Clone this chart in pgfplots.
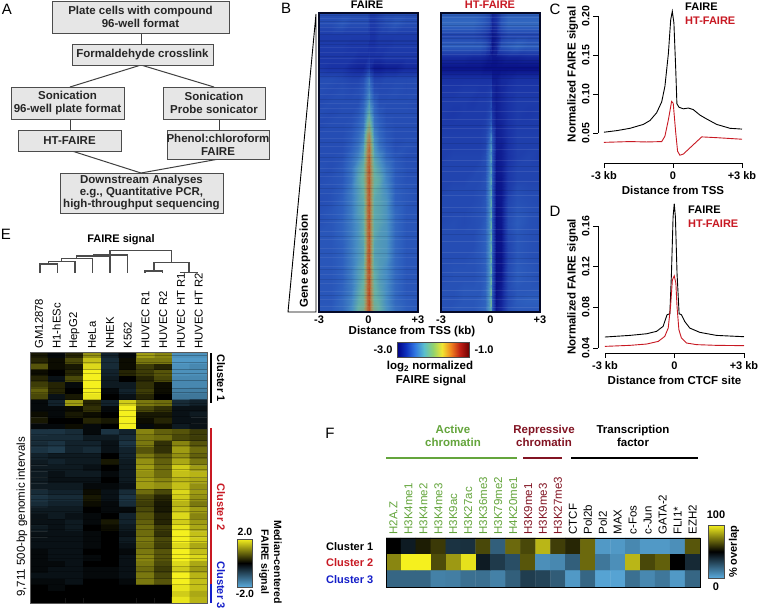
\documentclass[border=0pt]{standalone}
\usepackage{fontspec}
\setmainfont{Liberation Sans}
\usepackage{pgfplots}
\usepackage{pgfplotstable}
\pgfplotsset{compat=1.18}
\definecolor{htred}{RGB}{200,25,35}
\definecolor{clblue}{RGB}{20,30,200}
\definecolor{acgreen}{RGB}{100,165,60}
\definecolor{repred}{RGB}{130,20,35}
\definecolor{boxg}{RGB}{230,230,230}
\definecolor{frameb}{RGB}{5,10,40}
\newcommand{\fs}[1]{\fontsize{#1}{#1}\selectfont}
\newcommand{\bx}[5]{\draw[fill=boxg,draw=black!70,line width=.9pt] (#1,#2) rectangle (#3,#4);
  \node[align=center,font=\bfseries\fs{11.5},text=black!85,inner sep=0pt] at ({(#1+#3)/2},{(#2+#4)/2}) {#5};}
\pgfplotsset{
  colormap={jetf}{rgb255=(0,0,130) rgb255=(15,50,190) rgb255=(50,120,225) rgb255=(90,190,205) rgb255=(145,210,110) rgb255=(240,230,50) rgb255=(240,130,30) rgb255=(190,30,20) rgb255=(110,0,0)},
  colormap={heat}{rgb255=(0,0,120) rgb255=(25,50,165) rgb255=(45,95,190) rgb255=(70,140,195) rgb255=(100,175,165) rgb255=(140,165,120) rgb255=(175,130,80) rgb255=(185,75,35) rgb255=(130,10,10)},
  colormap={byb}{rgb255=(90,170,220) rgb255=(0,0,0) rgb255=(245,240,30)},
  heatB/.style={scale only axis,anchor=south west,width=99pt,height=299pt,xmin=-3,xmax=3,ymin=13,ymax=312,y dir=reverse,
    axis line style={line width=2pt,color=frameb},xtick={-3,0,3},xticklabels={-3,0,+3},ytick=\empty,major tick length=0pt,
    colormap name=heat,point meta min=-3,point meta max=-1,axis on top,
    tick label style={font=\bfseries\fs{11}},xticklabel style={yshift=0pt}},
  curve/.style={scale only axis,anchor=south west,clip=false,axis x line=none,axis y line*=left,tick align=outside,
    major tick length=5pt,axis line style={line width=.9pt},tick style={line width=.9pt,black},
    tick label style={font=\bfseries\fs{10.5}},
    yticklabel style={rotate=90,anchor=south,/pgf/number format/assume math mode=true,/pgf/number format/fixed,/pgf/number format/fixed zerofill,/pgf/number format/precision=2},
    ylabel style={font=\bfseries\fs{11.5}}},
  xcurve/.style={scale only axis,anchor=south west,height=1pt,ymin=0,ymax=1,xmin=-3,xmax=3,axis y line=none,axis x line*=bottom,
    xtick={-3,0,3},xticklabels={-3 kb,0,+3 kb},tick align=outside,major tick length=5pt,axis line style={line width=.9pt},tick style={line width=.9pt,black},
    tick label style={font=\bfseries\fs{11}},xlabel style={font=\bfseries\fs{11.5}}},
  cbar/.style={scale only axis,anchor=south west,hide axis,shader=interp},
}
\pgfplotstableread[header=false]{
18
23
27
31
47
52
58
63
83
88
94
103
108
117
123
131
138
146
153
161
168
176
184
193
201
214
222
231
239
248
257
266
274
283
291
299
306
}\lightA
\pgfplotstableread[header=false]{
15
21
34
40
41
44
56
68
72
76
99
113
127
142
157
172
188
205
219
236
253
269
279
295
}\darkA
\pgfplotstableread[header=false]{
17
22
26
29
32
36
42
46
50
54
85
92
101
111
119
128
137
149
160
171
181
195
207
216
229
241
252
263
272
281
290
299
307
}\lightB
\pgfplotstableread[header=false]{
15
25
34
38
44
60
63
67
70
74
78
97
125
143
166
190
212
234
258
276
296
}\darkB
\pgfplotstableread[header=false]{
.05
1.2
2.4
3.1
4.3
5.5
6.2
7.4
8.1
9.3
10.2
11.4
13.2
14.3
15.1
16.4
17.2
18.3
19.1
20.4
21.2
22.5
23.3
24.1
25.4
26.2
27.5
28.3
29.1
30.4
31.2
32.4
33.3
34.1
35.4
36.2
37.3
38.4
}\stripesE
\begin{document}
\begin{tikzpicture}[x=1pt,y=1pt]
\useasboundingbox (0,0) rectangle (758,610);
\fill[white] (0,0) rectangle (758,610);
% master overlay in pixel units
\begin{axis}[at={(0pt,0pt)},anchor=south west,scale only axis,width=758pt,height=610pt,xmin=0,xmax=758,ymin=0,ymax=610,y dir=reverse,hide axis,clip=false]
% panel letters
\node[font=\fs{15}] at (7,9) {A};
\node[font=\fs{15}] at (286,8) {B};
\node[font=\fs{15}] at (555,9) {C};
\node[font=\fs{15}] at (555,211) {D};
\node[font=\fs{15}] at (6,234) {E};
\node[font=\fs{15}] at (330,433) {F};
% flowchart A
\addplot[black!75,line width=1pt] coordinates {(141,33)(141,44)};
\addplot[black!75,line width=1pt] coordinates {(70,87)(141,65)(214,87)};
\addplot[black!75,line width=1pt] coordinates {(70,119)(70,130)};
\addplot[black!75,line width=1pt] coordinates {(219,119)(219,130)};
\addplot[black!75,line width=1pt] coordinates {(72,151)(141,173)(219,159)};
\bx{52}{1}{229}{33}{Plate cells with compound\\[1.5pt]96-well format}
\bx{72}{44}{213}{65}{Formaldehyde crosslink}
\bx{11}{87}{124}{119}{Sonication\\[1.5pt]96-well plate format}
\bx{163}{87}{265}{119}{Sonication\\[1.5pt]Probe sonicator}
\bx{18}{130}{121}{151}{HT-FAIRE}
\bx{167}{130}{269}{159}{Phenol:chloroform\\[1.5pt]FAIRE}
\bx{60}{173}{223}{213}{Downstream Analyses\\[.5pt]e.g., Quantitative PCR,\\[.5pt]high-throughput sequencing}
% panel B annotations
\node[font=\bfseries\fs{11}] at (367,5) {FAIRE};
\node[font=\bfseries\fs{11},text=htred] at (490,5) {HT-FAIRE};
\addplot[black,line width=.9pt] coordinates {(316,14)(288,312)(316,312)(316,14)};
\node[font=\bfseries\fs{11.5},rotate=90] at (305,261) {Gene expression};
\node[font=\bfseries\fs{11.5}] at (412,332) {Distance from TSS (kb)};
\node[font=\bfseries\fs{11}] at (383,350) {-3.0};
\node[font=\bfseries\fs{11}] at (484,350) {-1.0};
\node[font=\bfseries\fs{11.5}] at (430,367) {log\textsubscript{2} normalized};
\node[font=\bfseries\fs{11.5}] at (431,381) {FAIRE signal};
% C, D legends
\node[font=\bfseries\fs{11},anchor=west,inner sep=0pt] at (685,7) {FAIRE};
\node[font=\bfseries\fs{11},anchor=west,inner sep=0pt,text=htred] at (685,21) {HT-FAIRE};
\node[font=\bfseries\fs{11},anchor=west,inner sep=0pt] at (688,210) {FAIRE};
\node[font=\bfseries\fs{11},anchor=west,inner sep=0pt,text=htred] at (688,224) {HT-FAIRE};
% panel E annotations
\node[font=\bfseries\fs{11}] at (121,240) {FAIRE signal};
\addplot[black!70,line width=1.1pt] coordinates {(40,273)(40,264)(57.3,264)(57.3,273)};
\addplot[black!70,line width=1.1pt] coordinates {(48.7,264)(48.7,261.7)(75,261.7)(75,273)};
\addplot[black!70,line width=1.1pt] coordinates {(61.7,261.7)(61.7,258.3)(92.7,258.3)(92.7,273)};
\addplot[black!70,line width=1.1pt] coordinates {(76.7,258.3)(76.7,256)(110,256)(110,273)};
\addplot[black!70,line width=1.1pt] coordinates {(93.3,256)(93.3,255)(127.3,255)(127.3,273)};
\addplot[black!70,line width=1.1pt] coordinates {(110,255)(110,250.7)(171.7,250.7)(171.7,262.7)};
\addplot[black!70,line width=1.1pt] coordinates {(154,272)(154,262.7)(189,262.7)(189,272.7)};
\addplot[black!70,line width=1.1pt] coordinates {(145,272.7)(145,271)(162.7,271)(162.7,272.7)};
\addplot[black!70,line width=1.1pt] coordinates {(180,272.7)(198,272.7)};
\node[font=\bfseries\fs{11},rotate=-90,text=black] at (221,378) {Cluster 1};
\node[font=\bfseries\fs{11},rotate=-90,text=htred] at (221,507) {Cluster 2};
\node[font=\bfseries\fs{11},rotate=-90,text=clblue] at (221,585) {Cluster 3};
\addplot[black,line width=2pt] coordinates {(211,353)(211,403)};
\addplot[htred,line width=2pt] coordinates {(211,428)(211,584)};
\addplot[clblue,line width=2pt] coordinates {(211,584)(211,603)};
\node[font=\fs{11.5},rotate=90] at (22,517) {9,711 500-bp genomic intervals};
\node[font=\bfseries\fs{10.5}] at (245,532) {2.0};
\node[font=\bfseries\fs{10.5}] at (245,594) {-2.0};
\node[font=\bfseries\fs{10.5},rotate=-90] at (278,562) {Median-centered};
\node[font=\bfseries\fs{10.5},rotate=-90] at (264,562) {FAIRE signal};
% panel F annotations
\node[font=\bfseries\fs{11},text=black,anchor=west,inner sep=0pt] at (326,547) {Cluster 1};
\node[font=\bfseries\fs{11},text=htred,anchor=west,inner sep=0pt] at (326,563) {Cluster 2};
\node[font=\bfseries\fs{11},text=clblue,anchor=west,inner sep=0pt] at (326,580) {Cluster 3};
\node[font=\bfseries\fs{11.5},text=acgreen,align=center] at (453,436) {Active\\[2pt]chromatin};
\node[font=\bfseries\fs{11.5},text=repred,align=center] at (544,436) {Repressive\\[2pt]chromatin};
\node[font=\bfseries\fs{11.5},align=center] at (633,436) {Transcription\\[2pt]factor};
\addplot[acgreen,line width=2pt] coordinates {(386,458)(517,458)};
\addplot[repred,line width=2pt] coordinates {(523,458)(562,458)};
\addplot[black,line width=2pt] coordinates {(571,698)};
\addplot[black,line width=2pt] coordinates {(571,458)(698,458)};
\node[font=\bfseries\fs{11}] at (716,515) {100};
\node[font=\bfseries\fs{11}] at (716,587) {0};
\node[font=\bfseries\fs{11},rotate=90] at (734,552) {\% overlap};
\end{axis}

% heatmap B FAIRE
\begin{axis}[heatB,at={(319pt,298pt)}]
\addplot[surf,shader=interp,mesh/cols=15,point meta=explicit] table[header=false,row sep=crcr,meta index=0,
 x expr={3*((mod(\coordindex,15)-7)*abs(mod(\coordindex,15)-7)+(mod(\coordindex,15)-7))/56},
 y expr={13+floor((\coordindex+.5)/15)*299/27}] {
-2.6\\-2.6\\-2.6\\-2.6\\-2.6\\-2.6\\-2.6\\-2.65\\-2.7\\-2.7\\-2.65\\-2.6\\-2.6\\-2.6\\-2.6\\
-2.6\\-2.6\\-2.55\\-2.6\\-2.6\\-2.6\\-2.6\\-2.65\\-2.7\\-2.7\\-2.65\\-2.6\\-2.55\\-2.6\\-2.6\\
-2.7\\-2.7\\-2.7\\-2.7\\-2.7\\-2.7\\-2.7\\-2.7\\-2.75\\-2.75\\-2.7\\-2.7\\-2.7\\-2.7\\-2.7\\
-2.7\\-2.7\\-2.7\\-2.72\\-2.72\\-2.72\\-2.72\\-2.75\\-2.75\\-2.75\\-2.72\\-2.72\\-2.7\\-2.7\\-2.7\\
-2.72\\-2.72\\-2.72\\-2.72\\-2.75\\-2.75\\-2.75\\-2.72\\-2.75\\-2.75\\-2.75\\-2.72\\-2.72\\-2.72\\-2.72\\
-2.72\\-2.75\\-2.75\\-2.8\\-2.82\\-2.82\\-2.75\\-2.7\\-2.8\\-2.88\\-2.88\\-2.85\\-2.85\\-2.8\\-2.8\\
-2.6\\-2.6\\-2.62\\-2.65\\-2.65\\-2.6\\-2.45\\-2.35\\-2.5\\-2.65\\-2.65\\-2.62\\-2.62\\-2.62\\-2.6\\
-2.6\\-2.62\\-2.6\\-2.62\\-2.6\\-2.55\\-2.4\\-2.3\\-2.4\\-2.6\\-2.62\\-2.62\\-2.6\\-2.62\\-2.6\\
-2.62\\-2.6\\-2.6\\-2.6\\-2.6\\-2.5\\-2.3\\-2.15\\-2.3\\-2.5\\-2.6\\-2.6\\-2.6\\-2.6\\-2.62\\
-2.6\\-2.62\\-2.6\\-2.6\\-2.55\\-2.45\\-2.15\\-2.0\\-2.15\\-2.45\\-2.55\\-2.6\\-2.6\\-2.6\\-2.6\\
-2.62\\-2.6\\-2.6\\-2.58\\-2.5\\-2.4\\-1.95\\-1.8\\-1.95\\-2.4\\-2.5\\-2.58\\-2.6\\-2.6\\-2.6\\
-2.6\\-2.6\\-2.6\\-2.55\\-2.45\\-2.3\\-1.7\\-1.55\\-1.7\\-2.3\\-2.45\\-2.55\\-2.6\\-2.6\\-2.6\\
-2.6\\-2.6\\-2.6\\-2.52\\-2.4\\-2.2\\-1.55\\-1.4\\-1.55\\-2.2\\-2.4\\-2.52\\-2.6\\-2.58\\-2.6\\
-2.6\\-2.6\\-2.58\\-2.45\\-2.3\\-2.1\\-1.5\\-1.35\\-1.5\\-2.1\\-2.25\\-2.45\\-2.55\\-2.6\\-2.6\\
-2.58\\-2.6\\-2.55\\-2.4\\-2.15\\-2.0\\-1.45\\-1.3\\-1.45\\-2.0\\-2.15\\-2.35\\-2.52\\-2.58\\-2.6\\
-2.6\\-2.58\\-2.55\\-2.4\\-2.1\\-1.95\\-1.45\\-1.3\\-1.45\\-1.95\\-2.05\\-2.3\\-2.52\\-2.58\\-2.58\\
-2.58\\-2.58\\-2.52\\-2.35\\-2.15\\-2.0\\-1.45\\-1.3\\-1.45\\-2.0\\-2.1\\-2.25\\-2.5\\-2.55\\-2.58\\
-2.6\\-2.58\\-2.5\\-2.35\\-2.15\\-2.05\\-1.45\\-1.3\\-1.45\\-2.05\\-2.1\\-2.2\\-2.5\\-2.55\\-2.58\\
-2.58\\-2.55\\-2.5\\-2.35\\-2.15\\-2.05\\-1.45\\-1.3\\-1.45\\-2.05\\-2.1\\-2.2\\-2.45\\-2.55\\-2.55\\
-2.58\\-2.55\\-2.48\\-2.35\\-2.2\\-2.05\\-1.45\\-1.3\\-1.45\\-2.05\\-2.1\\-2.2\\-2.45\\-2.55\\-2.55\\
-2.55\\-2.55\\-2.48\\-2.35\\-2.2\\-2.05\\-1.45\\-1.3\\-1.45\\-2.05\\-2.15\\-2.2\\-2.45\\-2.55\\-2.55\\
-2.55\\-2.55\\-2.5\\-2.35\\-2.2\\-2.1\\-1.45\\-1.3\\-1.45\\-2.1\\-2.15\\-2.2\\-2.45\\-2.55\\-2.55\\
-2.55\\-2.55\\-2.5\\-2.35\\-2.2\\-2.1\\-1.42\\-1.28\\-1.42\\-2.1\\-2.15\\-2.2\\-2.45\\-2.55\\-2.55\\
-2.55\\-2.55\\-2.5\\-2.35\\-2.15\\-2.05\\-1.42\\-1.28\\-1.42\\-2.05\\-2.15\\-2.25\\-2.45\\-2.55\\-2.55\\
-2.55\\-2.55\\-2.5\\-2.35\\-2.15\\-2.0\\-1.42\\-1.28\\-1.42\\-2.0\\-2.15\\-2.25\\-2.45\\-2.55\\-2.55\\
-2.55\\-2.55\\-2.48\\-2.35\\-2.1\\-1.95\\-1.4\\-1.25\\-1.4\\-1.95\\-2.1\\-2.25\\-2.45\\-2.55\\-2.55\\
-2.55\\-2.55\\-2.45\\-2.3\\-2.05\\-1.95\\-1.4\\-1.25\\-1.4\\-1.95\\-2.05\\-2.25\\-2.45\\-2.52\\-2.55\\
-2.52\\-2.52\\-2.45\\-2.25\\-1.95\\-1.85\\-1.4\\-1.25\\-1.4\\-1.85\\-2.0\\-2.2\\-2.4\\-2.5\\-2.52\\
};
\addplot[xcomb,white,opacity=.07,line width=.5pt,mark=none] table[x expr=3,y index=0] {\lightA};
\addplot[xcomb,white,opacity=.07,line width=.5pt,mark=none] table[x expr=-3,y index=0] {\lightA};
\addplot[xcomb,frameb,opacity=.13,line width=.6pt,mark=none] table[x expr=3,y index=0] {\darkA};
\addplot[xcomb,frameb,opacity=.13,line width=.6pt,mark=none] table[x expr=-3,y index=0] {\darkA};
\end{axis}

% heatmap B HT-FAIRE
\begin{axis}[heatB,at={(441pt,298pt)}]
\addplot[surf,shader=interp,mesh/cols=15,point meta=explicit] table[header=false,row sep=crcr,meta index=0,
 x expr={3*((mod(\coordindex,15)-7)*abs(mod(\coordindex,15)-7)+(mod(\coordindex,15)-7))/56},
 y expr={13+floor((\coordindex+.5)/15)*299/27}] {
-2.5\\-2.5\\-2.5\\-2.5\\-2.52\\-2.55\\-2.6\\-2.72\\-2.8\\-2.75\\-2.6\\-2.5\\-2.5\\-2.5\\-2.5\\
-2.45\\-2.45\\-2.45\\-2.45\\-2.5\\-2.55\\-2.6\\-2.7\\-2.8\\-2.75\\-2.55\\-2.45\\-2.45\\-2.45\\-2.45\\
-2.65\\-2.65\\-2.65\\-2.65\\-2.68\\-2.72\\-2.78\\-2.82\\-2.88\\-2.85\\-2.72\\-2.65\\-2.65\\-2.65\\-2.65\\
-2.5\\-2.5\\-2.5\\-2.5\\-2.5\\-2.55\\-2.65\\-2.78\\-2.88\\-2.8\\-2.55\\-2.5\\-2.45\\-2.5\\-2.5\\
-2.78\\-2.78\\-2.78\\-2.8\\-2.8\\-2.82\\-2.85\\-2.85\\-2.88\\-2.88\\-2.85\\-2.82\\-2.82\\-2.8\\-2.8\\
-2.9\\-2.9\\-2.9\\-2.9\\-2.9\\-2.92\\-2.92\\-2.92\\-2.92\\-2.92\\-2.92\\-2.92\\-2.92\\-2.92\\-2.92\\
-2.75\\-2.75\\-2.75\\-2.75\\-2.75\\-2.75\\-2.75\\-2.75\\-2.85\\-2.85\\-2.8\\-2.78\\-2.75\\-2.75\\-2.75\\
-2.72\\-2.72\\-2.7\\-2.7\\-2.72\\-2.72\\-2.7\\-2.65\\-2.8\\-2.85\\-2.8\\-2.75\\-2.72\\-2.72\\-2.72\\
-2.7\\-2.7\\-2.7\\-2.72\\-2.7\\-2.7\\-2.68\\-2.6\\-2.8\\-2.85\\-2.8\\-2.75\\-2.7\\-2.7\\-2.7\\
-2.7\\-2.72\\-2.7\\-2.7\\-2.7\\-2.7\\-2.65\\-2.55\\-2.75\\-2.85\\-2.8\\-2.75\\-2.7\\-2.72\\-2.7\\
-2.7\\-2.7\\-2.7\\-2.7\\-2.7\\-2.68\\-2.6\\-2.48\\-2.72\\-2.85\\-2.82\\-2.75\\-2.7\\-2.7\\-2.7\\
-2.68\\-2.68\\-2.68\\-2.68\\-2.68\\-2.65\\-2.5\\-2.3\\-2.6\\-2.85\\-2.82\\-2.75\\-2.68\\-2.68\\-2.68\\
-2.68\\-2.68\\-2.68\\-2.68\\-2.68\\-2.65\\-2.4\\-2.2\\-2.55\\-2.85\\-2.85\\-2.75\\-2.68\\-2.68\\-2.68\\
-2.68\\-2.65\\-2.65\\-2.65\\-2.65\\-2.6\\-2.35\\-2.15\\-2.55\\-2.88\\-2.85\\-2.75\\-2.68\\-2.65\\-2.68\\
-2.65\\-2.65\\-2.65\\-2.65\\-2.62\\-2.6\\-2.35\\-2.15\\-2.55\\-2.88\\-2.85\\-2.72\\-2.65\\-2.65\\-2.65\\
-2.65\\-2.65\\-2.65\\-2.62\\-2.62\\-2.58\\-2.3\\-2.1\\-2.55\\-2.9\\-2.88\\-2.72\\-2.65\\-2.65\\-2.65\\
-2.65\\-2.62\\-2.62\\-2.62\\-2.6\\-2.58\\-2.3\\-2.1\\-2.55\\-2.9\\-2.88\\-2.7\\-2.6\\-2.62\\-2.62\\
-2.62\\-2.62\\-2.62\\-2.62\\-2.6\\-2.55\\-2.3\\-2.05\\-2.55\\-2.9\\-2.88\\-2.65\\-2.58\\-2.6\\-2.62\\
-2.62\\-2.62\\-2.62\\-2.6\\-2.58\\-2.55\\-2.3\\-2.05\\-2.55\\-2.92\\-2.88\\-2.62\\-2.55\\-2.58\\-2.6\\
-2.62\\-2.6\\-2.62\\-2.6\\-2.58\\-2.52\\-2.28\\-2.0\\-2.55\\-2.92\\-2.88\\-2.6\\-2.52\\-2.58\\-2.6\\
-2.6\\-2.6\\-2.6\\-2.6\\-2.55\\-2.5\\-2.28\\-2.0\\-2.55\\-2.92\\-2.9\\-2.62\\-2.55\\-2.58\\-2.6\\
-2.6\\-2.6\\-2.6\\-2.6\\-2.55\\-2.5\\-2.25\\-2.0\\-2.55\\-2.92\\-2.9\\-2.65\\-2.55\\-2.58\\-2.6\\
-2.6\\-2.6\\-2.6\\-2.58\\-2.55\\-2.5\\-2.25\\-2.0\\-2.55\\-2.92\\-2.9\\-2.65\\-2.55\\-2.58\\-2.6\\
-2.6\\-2.58\\-2.58\\-2.58\\-2.55\\-2.5\\-2.25\\-2.0\\-2.55\\-2.92\\-2.9\\-2.62\\-2.52\\-2.55\\-2.58\\
-2.6\\-2.58\\-2.58\\-2.58\\-2.55\\-2.5\\-2.25\\-2.0\\-2.55\\-2.92\\-2.88\\-2.62\\-2.52\\-2.55\\-2.58\\
-2.58\\-2.58\\-2.55\\-2.55\\-2.55\\-2.48\\-2.22\\-1.95\\-2.55\\-2.92\\-2.85\\-2.62\\-2.55\\-2.55\\-2.55\\
-2.58\\-2.58\\-2.55\\-2.55\\-2.52\\-2.48\\-2.2\\-1.95\\-2.55\\-2.9\\-2.82\\-2.62\\-2.52\\-2.5\\-2.5\\
-2.58\\-2.55\\-2.55\\-2.55\\-2.5\\-2.45\\-2.2\\-1.95\\-2.55\\-2.88\\-2.8\\-2.6\\-2.55\\-2.55\\-2.55\\
};
\addplot[xcomb,white,opacity=.09,line width=.5pt,mark=none] table[x expr=3,y index=0] {\lightB};
\addplot[xcomb,white,opacity=.09,line width=.5pt,mark=none] table[x expr=-3,y index=0] {\lightB};
\addplot[xcomb,frameb,opacity=.13,line width=.6pt,mark=none] table[x expr=3,y index=0] {\darkB};
\addplot[xcomb,frameb,opacity=.13,line width=.6pt,mark=none] table[x expr=-3,y index=0] {\darkB};
\end{axis}

% colorbar B
\begin{axis}[cbar,at={(397pt,253pt)},width=72pt,height=15pt,xmin=-3,xmax=-1,ymin=0,ymax=1,colormap name=jetf,point meta min=-3,point meta max=-1]
\addplot[surf,shader=interp,mesh/cols=2,point meta=x] coordinates {(-3,0)(-1,0)(-3,1)(-1,1)};
\end{axis}
\draw[black!70,line width=.8pt] (397,253) rectangle (469,268);

% curves C
\begin{axis}[curve,at={(598pt,477pt)},width=144pt,height=117pt,xmin=-3.26,xmax=3,ymin=.05,ymax=.2,ytick={.05,.1,.15,.2},
  ylabel={Normalized FAIRE signal},ylabel style={yshift=-3pt}]
\addplot[black,line width=.9pt] coordinates {(-3,.051)(-2.45,.053)(-1.87,.056)(-1.29,.061)(-1,.066)(-.71,.076)(-.49,.09)(-.35,.11)(-.2,.152)(-.1,.195)(-.03,.206)(.04,.191)(.12,.131)(.17,.0875)(.26,.083)(.45,.081)(.67,.082)(.88,.08)(1.17,.073)(1.46,.068)(1.9,.061)(2.48,.056)(3,.055)};
\addplot[htred,line width=.9pt] coordinates {(-3,.038)(-1.87,.039)(-1.14,.0385)(-.49,.039)(-.35,.046)(-.2,.067)(-.06,.0905)(.01,.088)(.12,.05)(.2,.0266)(.3,.0215)(.45,.023)(.74,.031)(1.03,.039)(1.25,.045)(1.9,.044)(3,.042)};
\end{axis}
\begin{axis}[xcurve,at={(604pt,447pt)},width=138pt,xlabel={Distance from TSS}]
\end{axis}

% curves D
\begin{axis}[curve,at={(598pt,262pt)},width=146pt,height=122pt,xmin=-3.3,xmax=3,ymin=.04,ymax=.16,ytick={.04,.08,.12,.16},
  ylabel={Normalized FAIRE signal},ylabel style={yshift=-3pt}]
\addplot[black,line width=.9pt] coordinates {(-3,.0508)(-1.92,.0524)(-1.2,.054)(-.77,.0564)(-.49,.0613)(-.32,.0727)(-.2,.0737)(-.13,.1136)(-.06,.169)(-.01,.182)(.04,.169)(.11,.1136)(.2,.0737)(.3,.0727)(.44,.0662)(.66,.0596)(1.09,.0554)(1.81,.0524)(3,.0511)};
\addplot[htred,line width=.9pt] coordinates {(-3,.0416)(-1.92,.0426)(-1.2,.0439)(-.7,.0465)(-.42,.0514)(-.27,.0596)(-.17,.0809)(-.09,.107)(-.01,.111)(.06,.1038)(.11,.0809)(.19,.058)(.3,.0498)(.52,.0449)(.95,.0433)(1.81,.0426)(3,.0423)};
\end{axis}
\begin{axis}[xcurve,at={(605pt,257pt)},width=139pt,xlabel={Distance from CTCF site}]
\end{axis}

% heatmap E
\begin{axis}[scale only axis,anchor=south west,at={(30pt,7pt)},width=177.5pt,height=251pt,xmin=-.5,xmax=9.5,ymin=-.5,ymax=41.5,y dir=reverse,
  colormap name=byb,point meta min=-2,point meta max=2,axis on top,axis line style={line width=.8pt,black!65},
  xtick={0,...,9},xticklabels={GM12878,H1-hESc,HepG2,HeLa,NHEK,K562,HUVEC R1,HUVEC R2,HUVEC HT R1,HUVEC HT R2},
  xticklabel pos=upper,xticklabel style={rotate=90,anchor=west,font=\fs{11.3}},ytick=\empty,major tick length=0pt]
\addplot[matrix plot*,mesh/cols=10,point meta=explicit] table[header=false,row sep=crcr,meta index=0,x expr={mod(\coordindex,10)},y expr={floor((\coordindex+.5)/10)}] {
.2\\-.1\\.3\\1.2\\-.4\\-.1\\1.3\\1.1\\-1.7\\-1.7\\
.3\\.1\\.6\\1.6\\-.5\\.1\\1.0\\1.0\\-1.8\\-1.8\\
.7\\.1\\.2\\1.8\\-.5\\.1\\.5\\.3\\-1.7\\-1.6\\
.1\\0\\.3\\2\\-.4\\.3\\.5\\.7\\-1.7\\-1.7\\
.3\\-.2\\.6\\2\\-.3\\0\\.3\\.6\\-1.6\\-1.6\\
.5\\.3\\-.1\\2\\-.3\\-.3\\.4\\.1\\-1.6\\-1.6\\
.8\\.3\\0\\2\\-.1\\-.4\\.5\\.1\\-1.5\\-1.5\\
.6\\-.2\\.2\\1.9\\0\\-.2\\.3\\0\\-1.4\\-1.4\\
-.1\\-.4\\1.3\\.3\\-.4\\1.7\\1.0\\.9\\-.5\\-.4\\
-.1\\-.1\\.1\\.4\\-.1\\2\\.6\\.4\\-.2\\-.2\\
.1\\-.1\\.2\\.1\\0\\2\\.2\\.2\\-.2\\-.3\\
.2\\0\\0\\.3\\.2\\2\\.1\\.3\\-.2\\-.2\\
-.1\\-.1\\.1\\-.1\\0\\2\\-.1\\.1\\-.3\\-.2\\
-.6\\-.6\\-.5\\-.1\\-.6\\-.4\\1.1\\.8\\.7\\.5\\
-.5\\-.5\\-.5\\-.3\\-.3\\-.5\\1.0\\.9\\.6\\.5\\
-.5\\-.6\\-.4\\-.4\\-.2\\-.6\\1.0\\.4\\1.1\\.7\\
-.6\\-.7\\-.4\\-.5\\-.2\\-.4\\.7\\.4\\1.3\\.9\\
-.4\\-.3\\-.3\\-.3\\0\\-.4\\1.0\\.7\\1.2\\.8\\
-.3\\-.4\\-.3\\-.3\\.2\\-.3\\1.2\\.8\\1.4\\1.0\\
-.3\\-.3\\-.3\\-.2\\0\\-.3\\1.3\\.9\\1.7\\1.3\\
-.3\\-.2\\-.3\\-.3\\-.1\\-.3\\1.2\\.9\\1.6\\1.5\\
-.3\\-.2\\-.2\\-.2\\0\\-.3\\1.3\\1.1\\1.5\\1.4\\
-.3\\-.3\\-.3\\-.1\\-.1\\-.2\\1.3\\1.2\\1.6\\1.2\\
-.5\\-.4\\-.4\\.1\\-.2\\-.5\\.9\\.6\\1.8\\1.3\\
-.6\\-.5\\-.5\\.2\\-.2\\-.6\\.6\\.3\\1.7\\1.2\\
-.5\\-.4\\-.4\\.1\\-.1\\-.5\\.5\\.2\\1.5\\1.0\\
-.3\\-.3\\-.3\\0\\-.1\\-.1\\.6\\.2\\1.6\\1.3\\
-.2\\-.3\\-.2\\-.1\\0\\-.4\\.7\\.3\\1.8\\1.1\\
-.2\\-.2\\-.3\\-.1\\.2\\-.4\\.8\\.3\\1.7\\1.3\\
-.3\\-.2\\-.3\\0\\.1\\-.3\\.9\\.5\\1.9\\1.4\\
-.2\\-.2\\-.2\\-.1\\0\\-.2\\.9\\.4\\2\\1.6\\
-.2\\-.2\\-.2\\-.1\\0\\-.3\\1.0\\.6\\2\\1.7\\
-.2\\-.2\\-.2\\-.1\\0\\-.2\\.9\\.5\\1.8\\1.4\\
-.1\\-.2\\-.2\\0\\0\\-.1\\1.0\\.7\\2\\1.6\\
-.1\\-.2\\-.2\\-.1\\0\\-.2\\1.1\\.7\\2\\1.8\\
-.1\\-.1\\-.2\\0\\0\\-.2\\1.0\\.6\\1.8\\1.4\\
-.1\\-.2\\-.2\\-.1\\-.1\\-.2\\.9\\.5\\1.7\\1.3\\
-.2\\-.2\\-.2\\-.1\\-.1\\-.2\\1.0\\.6\\2\\1.5\\
-.1\\-.1\\-.2\\0\\0\\-.1\\1.0\\.7\\2\\1.6\\
0\\-.1\\0\\0\\0\\0\\0\\0\\1.9\\1.6\\
0\\0\\0\\0\\0\\0\\0\\0\\1.7\\1.4\\
0\\0\\0\\0\\0\\0\\0\\0\\1.9\\1.5\\
};
\addplot[xcomb,black,opacity=.25,line width=.6pt,mark=none] table[x expr=9.5,y index=0] {\stripesE};
\addplot[xcomb,black,opacity=.25,line width=.6pt,mark=none] table[x expr=-.5,y index=0] {\stripesE};
\end{axis}

% colorbar E
\begin{axis}[cbar,at={(237pt,23pt)},width=15pt,height=48pt,xmin=0,xmax=1,ymin=-2,ymax=2,colormap name=byb,point meta min=-2,point meta max=2]
\addplot[surf,shader=interp,mesh/cols=2,point meta=y] coordinates {(0,-2)(1,-2)(0,2)(1,2)};
\end{axis}
\draw[black!70,line width=.8pt] (237,23) rectangle (252,71);

% heatmap F
\begin{axis}[scale only axis,anchor=south west,at={(386pt,23pt)},width=314pt,height=49pt,xmin=-.5,xmax=20.5,ymin=-.5,ymax=2.5,y dir=reverse,
  colormap name=byb,point meta min=0,point meta max=100,axis on top,axis line style={line width=.8pt,black},
  xtick={0,...,20},xticklabel pos=upper,xticklabel style={rotate=90,anchor=west,font=\fs{11.5}},ytick=\empty,major tick length=0pt,
  xticklabels={\textcolor{acgreen}{H2A.Z},\textcolor{acgreen}{H3K4me1},\textcolor{acgreen}{H3K4me2},\textcolor{acgreen}{H3K4me3},\textcolor{acgreen}{H3K9ac},\textcolor{acgreen}{H3K27ac},\textcolor{acgreen}{H3K36me3},\textcolor{acgreen}{H3K79me2},\textcolor{acgreen}{H4K20me1},\textcolor{repred}{H3K9me1},\textcolor{repred}{H3K9me3},\textcolor{repred}{H3K27me3},CTCF,Pol2b,Pol2,MAX,c-Fos,c-Jun,GATA-2,FLI1*,EZH2}]
\addplot[matrix plot*,mesh/cols=21,point meta=explicit] table[header=false,row sep=crcr,meta index=0,x expr={mod(\coordindex,21)},y expr={floor((\coordindex+.5)/21)}] {
50\\42\\56\\62\\35\\36\\65\\22\\72\\65\\88\\63\\58\\72\\5\\5\\10\\5\\5\\8\\68\\
78\\100\\100\\66\\82\\97\\42\\33\\27\\68\\8\\10\\22\\72\\15\\8\\88\\65\\70\\50\\38\\
20\\20\\20\\12\\13\\17\\17\\12\\22\\32\\30\\23\\5\\20\\2\\2\\17\\10\\15\\5\\20\\
};
\end{axis}

% colorbar F
\begin{axis}[cbar,at={(708pt,32pt)},width=16pt,height=53pt,xmin=0,xmax=1,ymin=0,ymax=100,colormap name=byb,point meta min=0,point meta max=100]
\addplot[surf,shader=interp,mesh/cols=2,point meta=y] coordinates {(0,0)(1,0)(0,100)(1,100)};
\end{axis}
\draw[black!70,line width=.8pt] (708,32) rectangle (724,85);
\end{tikzpicture}
\end{document}
